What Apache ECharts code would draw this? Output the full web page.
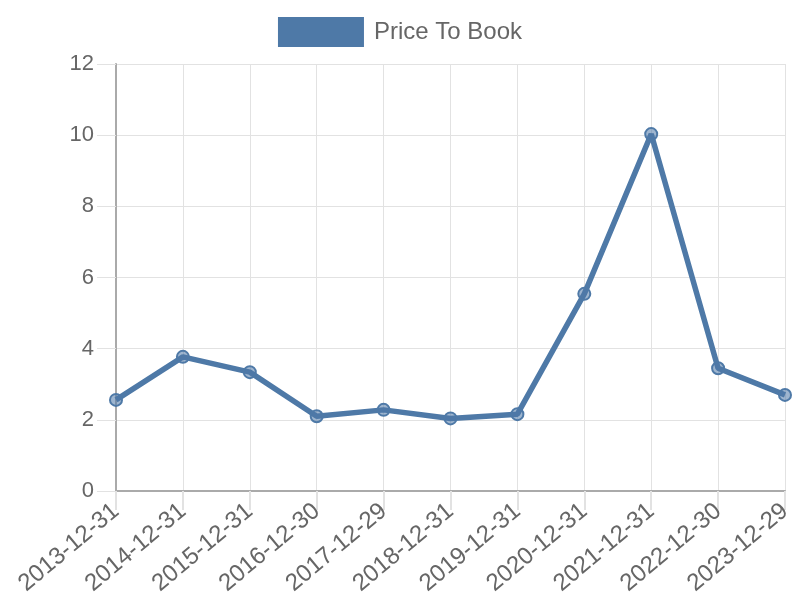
<!DOCTYPE html>
<html>
<head>
<meta charset="utf-8">
<script src="https://cdn.jsdelivr.net/npm/echarts@6/dist/echarts.min.js"></script>
<style>html,body{margin:0;padding:0;background:#fff}#c{width:800px;height:600px}</style>
</head>
<body>
<div id="c"></div>
<script>
const categories = ['2013-12-31','2014-12-31','2015-12-31','2016-12-30','2017-12-29','2018-12-31','2019-12-31','2020-12-31','2021-12-31','2022-12-30','2023-12-29'];
const priceToBook = [2.56, 3.77, 3.34, 2.10, 2.28, 2.04, 2.16, 5.54, 10.03, 3.45, 2.70];
const seriesName = 'Price To Book';
const yTicks = {min: 0, max: 12, interval: 2};

const chart = echarts.init(document.getElementById('c'), null, {renderer: 'canvas'});
const font = '"Liberation Sans", Arial, sans-serif';
chart.setOption({
  animation: false,
  backgroundColor: '#fff',
  textStyle: {fontFamily: font},
  legend: {
    top: 12, left: 'center',
    itemWidth: 86, itemHeight: 30, itemGap: 10,
    icon: 'rect',
    textStyle: {fontSize: 24, color: '#666', fontFamily: font, padding: [0, 0, 0, 5]},
    data: [{name: seriesName, icon: 'rect', itemStyle: {color: '#4e79a7', borderWidth: 0}}]
  },
  grid: {left: 116, right: 15, top: 64, bottom: 109, containLabel: false},
  xAxis: {
    type: 'category', data: categories, boundaryGap: false,
    axisLine: {show: true, lineStyle: {color: '#aaa', width: 2}},
    axisTick: {show: true, length: 19, lineStyle: {color: '#e2e2e2', width: 2}},
    splitLine: {show: true, lineStyle: {color: '#e2e2e2', width: 1}},
    axisLabel: {rotate: 40, fontSize: 24, color: '#666', margin: 17, fontFamily: font}
  },
  yAxis: {
    type: 'value', min: yTicks.min, max: yTicks.max, interval: yTicks.interval,
    axisLine: {show: true, lineStyle: {color: '#aaa', width: 2}},
    axisTick: {show: true, length: 19, lineStyle: {color: '#e2e2e2', width: 1}},
    splitLine: {show: true, lineStyle: {color: '#e2e2e2', width: 1}},
    axisLabel: {fontSize: 22, color: '#666', margin: 22, fontFamily: font}
  },
  series: [{
    name: seriesName, type: 'line', data: priceToBook,
    lineStyle: {color: '#4e79a7', width: 5.5},
    itemStyle: {color: 'rgba(78,121,167,0.55)', borderColor: '#4e79a7', borderWidth: 2},
    symbol: 'circle', symbolSize: 12, showAllSymbol: true
  }]
});
</script>
</body>
</html>
